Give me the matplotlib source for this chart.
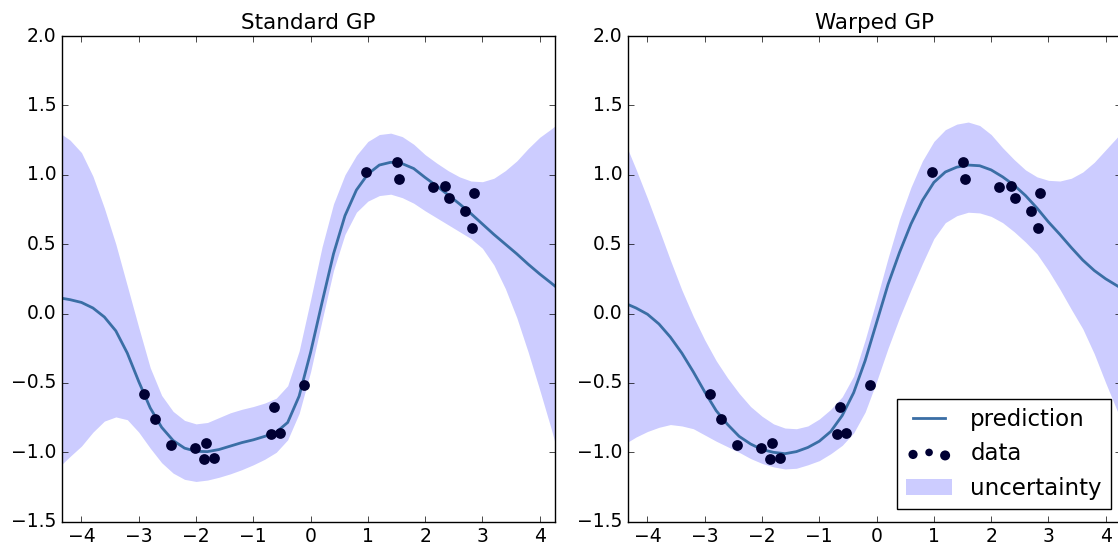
import matplotlib
matplotlib.use("Agg")
import matplotlib.pyplot as plt
from matplotlib.legend_handler import HandlerPathCollection

plt.style.use("classic")
plt.rcParams.update({
    "figure.facecolor": "white",
    "savefig.facecolor": "white",
    "font.size": 13.5,
})

# observations (same in both panels)
obs_x = [-2.90, -2.72, -2.44, -2.02, -1.82, -1.86, -1.69, -0.64, -0.69, -0.54,
         -0.11, 0.96, 1.51, 1.54, 2.14, 2.34, 2.42, 2.70, 2.85, 2.82]
obs_y = [-0.58, -0.76, -0.95, -0.97, -0.93, -1.045, -1.04, -0.67, -0.87, -0.86,
         -0.515, 1.02, 1.095, 0.97, 0.91, 0.92, 0.835, 0.74, 0.87, 0.62]

# prediction grid, values
grid_x = [-4.34, -4.2, -4.0, -3.8, -3.6, -3.4, -3.2, -3.0, -2.8, -2.6,
          -2.4, -2.2, -2.0, -1.8, -1.6, -1.4, -1.2, -1.0, -0.8, -0.6,
          -0.4, -0.2, 0.0, 0.2, 0.4, 0.6, 0.8, 1.0, 1.2, 1.4,
          1.6, 1.8, 2.0, 2.2, 2.4, 2.6, 2.8, 3.0, 3.2, 3.4,
          3.6, 3.8, 4.0, 4.2, 4.26]

std_mean = [0.11, 0.10, 0.08, 0.04, -0.025, -0.125, -0.285, -0.49, -0.68, -0.82,
            -0.915, -0.97, -0.993, -0.995, -0.98, -0.955, -0.93, -0.91, -0.885, -0.855,
            -0.785, -0.595, -0.28, 0.08, 0.43, 0.705, 0.89, 1.005, 1.07, 1.09,
            1.08, 1.045, 0.98, 0.92, 0.855, 0.79, 0.72, 0.645, 0.57, 0.50,
            0.43, 0.355, 0.285, 0.22, 0.20]
std_upper = [1.29, 1.25, 1.16, 0.99, 0.76, 0.50, 0.20, -0.10, -0.39, -0.59,
             -0.705, -0.77, -0.795, -0.785, -0.75, -0.715, -0.69, -0.67, -0.645, -0.61,
             -0.52, -0.27, 0.10, 0.48, 0.79, 1.00, 1.14, 1.24, 1.29, 1.30,
             1.275, 1.22, 1.145, 1.085, 1.03, 0.985, 0.955, 0.95, 0.975, 1.03,
             1.10, 1.19, 1.27, 1.33, 1.35]
std_lower = [-1.085, -1.03, -0.955, -0.855, -0.775, -0.745, -0.765, -0.855, -0.97, -1.075,
             -1.15, -1.195, -1.21, -1.20, -1.18, -1.155, -1.125, -1.09, -1.05, -1.00,
             -0.91, -0.72, -0.42, -0.05, 0.31, 0.57, 0.73, 0.81, 0.85, 0.86,
             0.835, 0.795, 0.74, 0.69, 0.64, 0.59, 0.54, 0.47, 0.35, 0.18,
             -0.03, -0.28, -0.55, -0.83, -0.92]

wrp_mean = [0.065, 0.04, -0.005, -0.075, -0.17, -0.285, -0.42, -0.565, -0.70, -0.80,
            -0.885, -0.94, -0.98, -1.0, -1.01, -0.995, -0.965, -0.92, -0.85, -0.735,
            -0.57, -0.34, -0.065, 0.21, 0.44, 0.645, 0.815, 0.945, 1.02, 1.055,
            1.07, 1.065, 1.035, 0.985, 0.925, 0.85, 0.76, 0.66, 0.57, 0.475,
            0.385, 0.31, 0.25, 0.20, 0.185]
wrp_upper = [1.18, 1.04, 0.83, 0.61, 0.385, 0.17, -0.02, -0.19, -0.34, -0.465,
             -0.575, -0.67, -0.74, -0.795, -0.825, -0.83, -0.81, -0.76, -0.69, -0.60,
             -0.45, -0.19, 0.10, 0.40, 0.68, 0.91, 1.10, 1.24, 1.325, 1.365,
             1.38, 1.355, 1.29, 1.195, 1.11, 1.035, 0.985, 0.96, 0.955, 0.975,
             1.02, 1.09, 1.18, 1.27, 1.30]
wrp_lower = [-0.925, -0.89, -0.85, -0.82, -0.80, -0.81, -0.83, -0.875, -0.92, -0.96,
             -1.0, -1.045, -1.08, -1.105, -1.12, -1.115, -1.09, -1.06, -1.01, -0.95,
             -0.86, -0.71, -0.49, -0.25, -0.03, 0.17, 0.36, 0.54, 0.655, 0.705,
             0.73, 0.725, 0.70, 0.655, 0.59, 0.515, 0.43, 0.31, 0.175, 0.03,
             -0.11, -0.29, -0.50, -0.70, -0.76]

panels = [("Standard GP", std_mean, std_upper, std_lower),
          ("Warped GP", wrp_mean, wrp_upper, wrp_lower)]

W, H = 1118, 548
fig = plt.figure(figsize=(W / 100, H / 100), dpi=100)
lefts = [62, 628]

for left, (title, mean, upper, lower) in zip(lefts, panels):
    ax = fig.add_axes([left / W, (H - 521.7) / H, 492.6 / W, 485.7 / H])
    ax.fill_between(grid_x, lower, upper, color="b", alpha=0.2, lw=0,
                    zorder=1, label="uncertainty")
    ax.plot(grid_x, mean, color="#3a6ea5", lw=2, zorder=2, label="prediction")
    sc = ax.scatter(obs_x, obs_y, s=60, c="#000033", linewidths=0, zorder=3,
                    label="data")
    ax.set_xlim(-4.34, 4.26)
    ax.set_ylim(-1.5, 2.0)
    ax.set_xticks(range(-4, 5))
    ax.set_yticks([-1.5, -1.0, -0.5, 0.0, 0.5, 1.0, 1.5, 2.0])
    ax.set_title(title, fontsize=15.5)

handles, labels = ax.get_legend_handles_labels()
order = [labels.index(n) for n in ("prediction", "data", "uncertainty")]
ax.legend([handles[i] for i in order], [labels[i] for i in order],
          loc="lower right", bbox_to_anchor=(0.9805, 0.026), borderaxespad=0,
          fontsize=16.5, scatterpoints=3,
          handler_map={sc: HandlerPathCollection(sizes=[44, 30, 52])})

fig.savefig("out.png", dpi=100)
